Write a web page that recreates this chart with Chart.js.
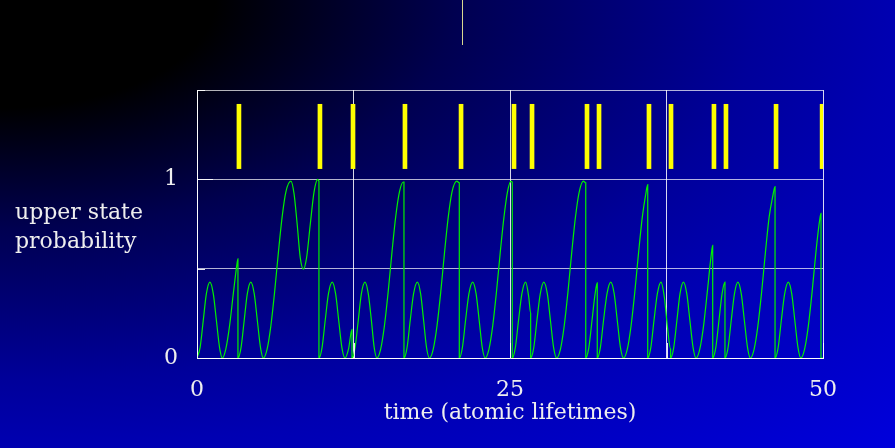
<!DOCTYPE html>
<html>
<head>
<meta charset="utf-8">
<script src="https://cdn.jsdelivr.net/npm/chart.js@4.4.1/dist/chart.umd.min.js"></script>
<style>
  html, body { margin: 0; padding: 0; }
  body {
    width: 895px; height: 448px; overflow: hidden; position: relative;
    background: radial-gradient(ellipse farthest-corner at 0 0,
      #000000 0%, #000000 17%, #000050 36%, #00009a 60%, #0000b2 71%, #0000dc 100%);
  }
  #wrap { position: absolute; left: 0; top: 0; width: 895px; height: 448px; }
  #marker { position: absolute; left: 462px; top: 0; width: 1px; height: 45px; background: #d8d890; }
</style>
</head>
<body>
<div id="marker"></div>
<div id="wrap"><canvas id="jumpChart" width="895" height="448"></canvas></div>
<script>
// times of the quantum jumps (yellow markers above the trace)
var markerTimes = [3.35, 9.82, 12.46, 16.61, 21.09, 25.32, 26.76, 31.15, 32.11, 36.10, 37.86, 41.29, 42.25, 46.25, 49.93];
var markerSpan = [1.06, 1.42];

// upper state probability vs time, resets to 0 at each jump
var trace = [
    [0, 0], [0.25, 0.06], [0.5, 0.21], [0.75, 0.36], [1.03, 0.425], [1.3, 0.36], [1.55, 0.21], [1.8, 0.06], [2.02, 0],
    [2.3, 0.05], [2.6, 0.18], [2.9, 0.36], [3.2, 0.53], [3.27, 0.555], [3.27, 0],

    [3.52, 0.06], [3.77, 0.21], [4.02, 0.36], [4.3, 0.425], [4.57, 0.36], [4.82, 0.21], [5.07, 0.06], [5.3, 0],
    [5.6, 0.05], [5.9, 0.18], [6.2, 0.37], [6.5, 0.59], [6.8, 0.79], [7.1, 0.93], [7.5, 0.99],
    [7.75, 0.92], [8.0, 0.75], [8.25, 0.56], [8.5, 0.497], [8.75, 0.56], [9.05, 0.75], [9.35, 0.93], [9.64, 1.0], [9.74, 0.99], [9.74, 0],

    [9.99, 0.06], [10.24, 0.21], [10.5, 0.36], [10.8, 0.425], [11.07, 0.36], [11.32, 0.21], [11.57, 0.06], [11.82, 0],
    [12.1, 0.05], [12.38, 0.16], [12.38, 0],

    [12.63, 0.06], [12.88, 0.21], [13.13, 0.36], [13.42, 0.425], [13.68, 0.36], [13.93, 0.21], [14.15, 0.06], [14.37, 0],
    [14.67, 0.05], [14.97, 0.18], [15.27, 0.37], [15.57, 0.59], [15.87, 0.79], [16.17, 0.93], [16.48, 0.985], [16.53, 0.985], [16.53, 0],

    [16.78, 0.06], [17.03, 0.21], [17.3, 0.36], [17.6, 0.425], [17.86, 0.36], [18.1, 0.21], [18.33, 0.06], [18.57, 0],
    [18.87, 0.05], [19.17, 0.18], [19.47, 0.37], [19.77, 0.59], [20.07, 0.79], [20.37, 0.93], [20.75, 0.99], [20.95, 0.98], [20.95, 0],

    [21.2, 0.06], [21.45, 0.21], [21.72, 0.36], [22.02, 0.425], [22.29, 0.36], [22.54, 0.21], [22.78, 0.06], [23.02, 0],
    [23.32, 0.05], [23.62, 0.18], [23.92, 0.37], [24.22, 0.59], [24.52, 0.79], [24.8, 0.93], [25.08, 0.99], [25.18, 0.985], [25.18, 0],

    [25.43, 0.06], [25.68, 0.21], [25.95, 0.36], [26.25, 0.425], [26.5, 0.34], [26.65, 0.25], [26.65, 0],

    [26.9, 0.06], [27.15, 0.21], [27.42, 0.36], [27.7, 0.425], [27.98, 0.36], [28.23, 0.21], [28.48, 0.06], [28.73, 0],
    [29.03, 0.05], [29.33, 0.18], [29.63, 0.37], [29.93, 0.59], [30.23, 0.79], [30.53, 0.93], [30.86, 0.99], [31.05, 0.98], [31.05, 0],

    [31.3, 0.06], [31.55, 0.21], [31.8, 0.36], [31.97, 0.42], [31.97, 0],

    [32.22, 0.06], [32.47, 0.21], [32.75, 0.36], [33.05, 0.425], [33.32, 0.36], [33.57, 0.21], [33.82, 0.06], [34.07, 0],
    [34.37, 0.05], [34.67, 0.18], [34.97, 0.37], [35.27, 0.59], [35.57, 0.79], [35.85, 0.92], [36.0, 0.97], [36.0, 0],

    [36.25, 0.06], [36.5, 0.21], [36.77, 0.36], [37.06, 0.425], [37.33, 0.34], [37.58, 0.17], [37.83, 0.05], [37.83, 0],

    [38.08, 0.06], [38.33, 0.21], [38.58, 0.36], [38.85, 0.425], [39.12, 0.36], [39.37, 0.21], [39.62, 0.06], [39.86, 0],
    [40.16, 0.05], [40.46, 0.18], [40.76, 0.37], [41.06, 0.57], [41.19, 0.63], [41.19, 0],

    [41.44, 0.06], [41.69, 0.21], [41.94, 0.36], [42.17, 0.425], [42.17, 0],

    [42.42, 0.06], [42.67, 0.21], [42.93, 0.36], [43.2, 0.425], [43.47, 0.36], [43.72, 0.21], [43.97, 0.06], [44.2, 0],
    [44.5, 0.05], [44.8, 0.18], [45.1, 0.37], [45.4, 0.59], [45.7, 0.79], [46.0, 0.91], [46.17, 0.96], [46.17, 0],

    [46.42, 0.06], [46.67, 0.21], [46.94, 0.36], [47.23, 0.425], [47.5, 0.36], [47.75, 0.21], [48.0, 0.06], [48.23, 0],
    [48.53, 0.05], [48.83, 0.18], [49.13, 0.37], [49.43, 0.59], [49.73, 0.77], [49.84, 0.81], [49.84, 0], [50, 0]
];

var xLabels = [0, 25, 50];
var yLabels = [0, 1];

var textColor = '#eeeeee';
var font = { family: '"DejaVu Serif", serif', size: 22 };

Chart.defaults.font.family = font.family;

// horizontal two-line y title, chart.js only draws it rotated
var sideTitle = {
    id: 'sideTitle',
    afterDraw: function (chart) {
        var ctx = chart.ctx;
        ctx.save();
        ctx.fillStyle = textColor;
        ctx.font = font.size + 'px ' + font.family;
        ctx.textBaseline = 'middle';
        ctx.fillText('upper state', 15, 213);
        ctx.fillText('probability', 15, 242);
        ctx.restore();
    }
};

// short tick marks drawn inward from the left and bottom frame
var innerTicks = {
    id: 'innerTicks',
    afterDatasetsDraw: function (chart) {
        var ctx = chart.ctx, a = chart.chartArea;
        var x = chart.scales.x, y = chart.scales.y;
        ctx.save();
        ctx.strokeStyle = 'rgba(255,255,255,0.9)';
        ctx.lineWidth = 1;
        x.ticks.forEach(function (t) {
            var px = Math.round(x.getPixelForValue(t.value)) + 0.5;
            ctx.beginPath();
            ctx.moveTo(px, a.bottom);
            ctx.lineTo(px, a.bottom - 15);
            ctx.stroke();
        });
        y.ticks.forEach(function (t) {
            var py = Math.round(y.getPixelForValue(t.value)) + 0.5;
            var len = yLabels.indexOf(t.value) >= 0 ? 16 : 8;
            ctx.beginPath();
            ctx.moveTo(a.left, py);
            ctx.lineTo(a.left + len, py);
            ctx.stroke();
        });
        ctx.restore();
    }
};

var jumpChart = new Chart(document.getElementById('jumpChart'), {
    type: 'line',
    data: {
        datasets: [
            {
                type: 'line',
                data: trace.map(function (p) { return { x: p[0], y: p[1] }; }),
                borderColor: '#00f000',
                borderWidth: 1.2,
                pointRadius: 0,
                fill: false,
                cubicInterpolationMode: 'monotone'
            },
            {
                type: 'bar',
                data: markerTimes.map(function (t) { return { x: t, y: markerSpan }; }),
                backgroundColor: '#ffff00',
                borderWidth: 0,
                barThickness: 4
            }
        ]
    },
    options: {
        responsive: false,
        animation: false,
        layout: { padding: { top: 90, right: 72, left: 0, bottom: 0 } },
        plugins: { legend: { display: false }, tooltip: { enabled: false } },
        scales: {
            x: {
                type: 'linear',
                min: 0,
                max: 50,
                offset: false,
                afterFit: function (s) { s.height = 90; },
                ticks: {
                    stepSize: 12.5,
                    autoSkip: false,
                    maxRotation: 0,
                    color: textColor,
                    font: font,
                    padding: 19,
                    callback: function (v) { return xLabels.indexOf(v) >= 0 ? v : ''; }
                },
                grid: { color: 'rgba(255,255,255,0.85)', lineWidth: 1, drawTicks: false, offset: false },
                border: { color: '#ffffff', width: 1 },
                title: {
                    display: true,
                    text: 'time (atomic lifetimes)',
                    color: textColor,
                    font: font,
                    padding: { top: 0, bottom: 22 }
                }
            },
            y: {
                type: 'linear',
                min: 0,
                max: 1.5,
                afterFit: function (s) { s.width = 197; },
                ticks: {
                    stepSize: 0.5,
                    color: textColor,
                    font: font,
                    padding: 19,
                    callback: function (v) { return yLabels.indexOf(v) >= 0 ? v : ''; }
                },
                grid: { color: 'rgba(255,255,255,0.7)', lineWidth: 1, drawTicks: false },
                border: { color: '#ffffff', width: 1 }
            }
        }
    },
    plugins: [sideTitle, innerTicks]
});
</script>
</body>
</html>
